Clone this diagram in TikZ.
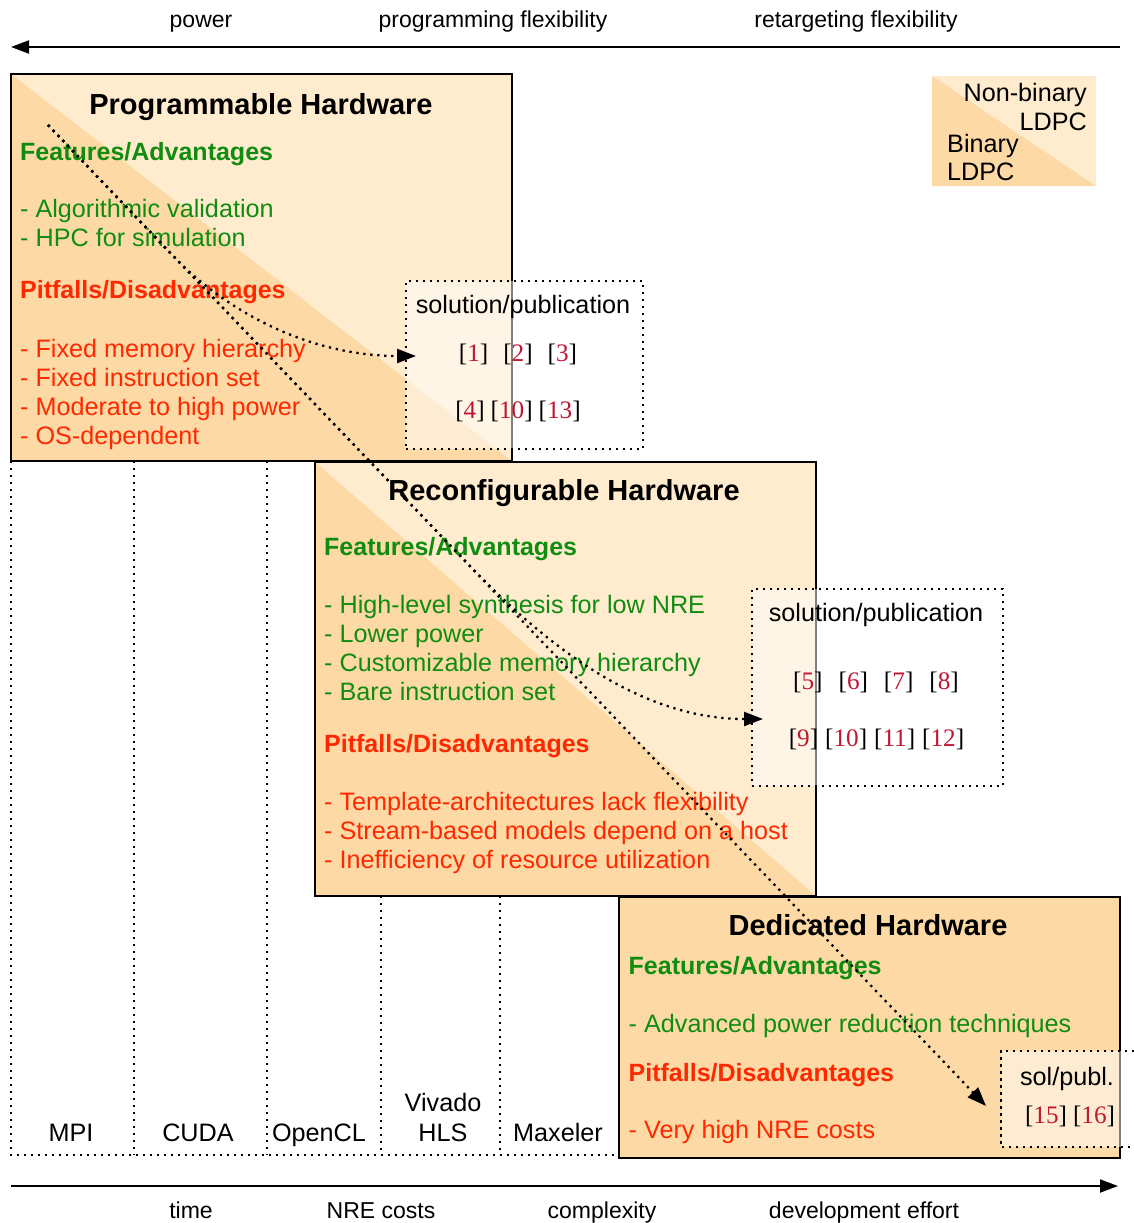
\documentclass[tikz,border=0pt]{standalone}
\usepackage{fontspec}
\setmainfont{Liberation Sans}
\newfontfamily\citefont{Liberation Serif}
\usetikzlibrary{arrows.meta}

\definecolor{lightor}{RGB}{255,236,206}
\definecolor{darkor}{RGB}{253,217,166}
\definecolor{featgreen}{RGB}{16,140,16}
\definecolor{pitred}{RGB}{255,40,0}
\definecolor{citered}{RGB}{192,22,50}

\newcommand\bodysize{\fontsize{25.2pt}{29pt}\selectfont}
\newcommand\headsize{\fontsize{25pt}{29pt}\selectfont\bfseries}
\newcommand\titlesize{\fontsize{29pt}{34pt}\selectfont\bfseries}
\newcommand\axsize{\fontsize{23pt}{27pt}\selectfont}
\newcommand\cn[1]{[\textcolor{citered}{#1}]}

\tikzset{
  hwbox/.style={draw=black, line width=1.6pt, inner sep=0pt, fill=lightor,
    path picture={\fill[darkor] (path picture bounding box.north west)
      -- (path picture bounding box.south west)
      -- (path picture bounding box.south east) -- cycle;}},
  legendbox/.style={hwbox, draw=none},
  plainbox/.style={draw=black, line width=1.6pt, inner sep=0pt, fill=darkor},
  dots/.style={line width=2.3pt, dash pattern=on 2.3pt off 4.7pt},
  solbox/.style={draw=black, dots, fill=white, fill opacity=0.5, inner sep=0pt},
  soldots/.style={dots},
  lane/.style={dots},
  conn/.style={dots, -{Triangle[length=19pt,width=14pt]}},
  axis/.style={line width=2pt, -{Triangle[length=18pt,width=13pt]}},
  ttl/.style={font=\titlesize, inner sep=0pt, anchor=base},
  txt/.style={font=\bodysize, inner sep=0pt, anchor=base west},
  ctr/.style={font=\bodysize, inner sep=0pt, anchor=base},
  feat/.style={txt, font=\headsize, text=featgreen},
  good/.style={txt, text=featgreen},
  pit/.style={txt, font=\headsize, text=pitred},
  bad/.style={txt, text=pitred},
  cites/.style={font=\citefont\bodysize, inner sep=0pt, anchor=base},
  axlabel/.style={font=\axsize, inner sep=0pt, anchor=base},
}

\begin{document}
\begin{tikzpicture}[x=1pt, y=-1pt]
\useasboundingbox (0,0) rectangle (1134,1223);

% tool lanes below the hardware boxes
\draw[lane] (11,461) -- (11,1155) -- (619,1155);
\draw[lane] (134,461) -- (134,1155);
\draw[lane] (267,461) -- (267,1155);
\draw[lane] (381,896) -- (381,1155);
\draw[lane] (500,896) -- (500,1155);

\node[ctr] (mpi) at (71,1141) {MPI};
\node[ctr] (cuda) at (198,1141) {CUDA};
\node[ctr] (opencl) at (319,1141) {OpenCL};
\node[ctr] (vivado) at (443,1111) {Vivado};
\node[ctr] (hls) at (443,1141) {HLS};
\node[ctr] (maxeler) at (558,1141) {Maxeler};

% hardware classes
\node[hwbox, minimum width=501pt, minimum height=387pt] (prog) at (261.5,267.5) {};
\node[hwbox, minimum width=501pt, minimum height=434pt] (reconf) at (565.5,679) {};
\node[plainbox, minimum width=501pt, minimum height=261pt] (ded) at (869.5,1027.5) {};

% legend
\node[legendbox, minimum width=164pt, minimum height=110pt] (legend) at (1014,131) {};
\node[txt, anchor=base east] (lg1) at (1087,101) {Non-binary};
\node[txt, anchor=base east] (lg2) at (1087,130) {LDPC};
\node[txt] (lg3) at (947,152) {Binary};
\node[txt] (lg4) at (947,180) {LDPC};

% programmable hardware
\node[ttl] (progT) at (261,114) {Programmable Hardware};
\node[feat] (pF) at (20,160) {Features/Advantages};
\node[good] (pF1) at (20,217.5) {- Algorithmic validation};
\node[good] (pF2) at (20,246.5) {- HPC for simulation};
\node[pit] (pP) at (20,298.5) {Pitfalls/Disadvantages};
\node[bad] (pP1) at (20,357.5) {- Fixed memory hierarchy};
\node[bad] (pP2) at (20,386.5) {- Fixed instruction set};
\node[bad] (pP3) at (20,415.5) {- Moderate to high power};
\node[bad] (pP4) at (20,444.5) {- OS-dependent};

% reconfigurable hardware
\node[ttl] (recT) at (564,500) {Reconfigurable Hardware};
\node[feat] (rF) at (324,555) {Features/Advantages};
\node[good] (rF1) at (324,613.5) {- High-level synthesis for low NRE};
\node[good] (rF2) at (324,642.5) {- Lower power};
\node[good] (rF3) at (324,671.5) {- Customizable memory hierarchy};
\node[good] (rF4) at (324,700.5) {- Bare instruction set};
\node[pit] (rP) at (324,752) {Pitfalls/Disadvantages};
\node[bad] (rP1) at (324,810.5) {- Template-architectures lack flexibility};
\node[bad] (rP2) at (324,839.5) {- Stream-based models depend on a host};
\node[bad] (rP3) at (324,868.5) {- Inefficiency of resource utilization};

% dedicated hardware
\node[ttl] (dedT) at (868,935) {Dedicated Hardware};
\node[feat] (dF) at (628.5,974) {Features/Advantages};
\node[good] (dF1) at (628.5,1032.5) {- Advanced power reduction techniques};
\node[pit] (dP) at (628.5,1081) {Pitfalls/Disadvantages};
\node[bad] (dP1) at (628.5,1138.5) {- Very high NRE costs};

% publication boxes
\node[solbox, minimum width=237pt, minimum height=168pt] (sol1) at (524.5,365) {};
\node[ctr] (sol1h) at (523,313.5) {solution/publication};
\node[cites] (sol1a) at (518,361) {\cn{1}\hspace{15pt}\cn{2}\hspace{15pt}\cn{3}};
\node[cites] (sol1b) at (518,418) {\cn{4}\hspace{6pt}\cn{10}\hspace{6pt}\cn{13}};

\node[solbox, minimum width=251pt, minimum height=197pt] (sol2) at (877.5,687.5) {};
\node[ctr] (sol2h) at (876,621.5) {solution/publication};
\node[cites] (sol2a) at (876,689) {\cn{5}\hspace{16pt}\cn{6}\hspace{16pt}\cn{7}\hspace{16pt}\cn{8}};
\node[cites] (sol2b) at (876.5,746) {\cn{9}\hspace{7pt}\cn{10}\hspace{7pt}\cn{11}\hspace{7pt}\cn{12}};

\node[inner sep=0pt, fill=white, fill opacity=0.5, minimum width=140pt, minimum height=96pt] (sol3) at (1071,1099) {};
\draw[soldots] (sol3.north east) -- (sol3.north west) -- (sol3.south west) -- (sol3.south east);
\node[ctr] (sol3h) at (1067,1085) {sol/publ.};
\node[cites] (sol3a) at (1070,1123) {\cn{15}\hspace{6pt}\cn{16}};

% connectors from the common origin to the publication boxes
\coordinate (src) at (48,125);
\coordinate (tip1) at (416,356);
\coordinate (tip2) at (763,719);
\coordinate (tip3) at (986,1106);
\draw[conn] (src) -- (170,253) .. controls (235,321) and (320,356) .. (tip1);
\draw[conn] (src) -- (470,566) .. controls (560,660) and (650,719) .. (tip2);
\draw[conn] (src) -- (tip3);

% axes
\coordinate (topR) at (1120,47);
\coordinate (topL) at (11,47);
\coordinate (botL) at (11,1186);
\coordinate (botR) at (1118,1186);
\draw[axis] (topR) -- (topL);
\draw[axis] (botL) -- (botR);

\node[axlabel] (ax1) at (201,28) {power};
\node[axlabel] (ax2) at (493,28) {programming flexibility};
\node[axlabel] (ax3) at (856,28) {retargeting flexibility};
\node[axlabel] (ax4) at (191,1218) {time};
\node[axlabel] (ax5) at (381,1218) {NRE costs};
\node[axlabel] (ax6) at (602,1218) {complexity};
\node[axlabel] (ax7) at (864,1218) {development effort};
\end{tikzpicture}
\end{document}
